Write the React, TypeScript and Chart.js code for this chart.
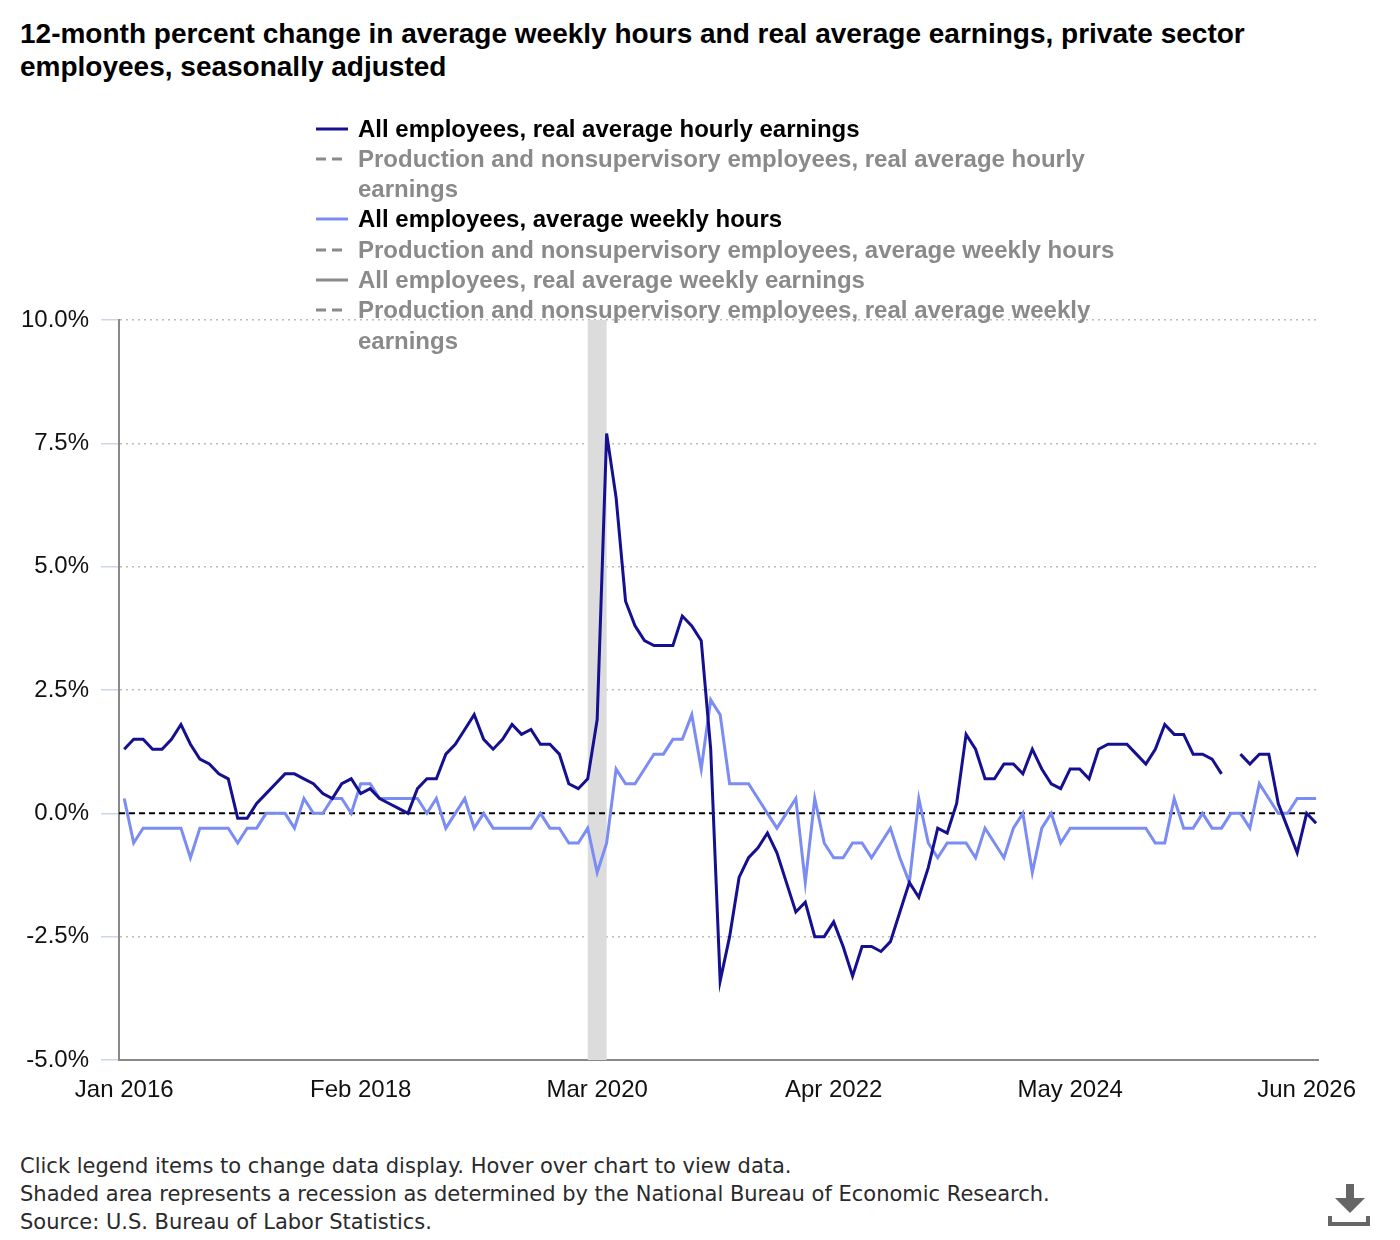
import React, { useEffect, useRef } from 'react';
import { Chart, registerables } from 'chart.js';

Chart.register(...registerables);

// ---------- data ----------
const MONTH_NAMES = ['Jan', 'Feb', 'Mar', 'Apr', 'May', 'Jun', 'Jul', 'Aug', 'Sep', 'Oct', 'Nov', 'Dec'];
const FIRST_YEAR = 2016;
const N_MONTHS = 127; // Jan 2016 .. Jul 2026
const monthLabels: string[] = Array.from(
  { length: N_MONTHS },
  (_, i) => `${MONTH_NAMES[i % 12]} ${FIRST_YEAR + Math.floor(i / 12)}`
);

const xTickLabels = ['Jan 2016', 'Feb 2018', 'Mar 2020', 'Apr 2022', 'May 2024', 'Jun 2026'];
const yTickValues = [-5, -2.5, 0, 2.5, 5, 7.5, 10];

// All employees, real average hourly earnings (12-month % change)
const realHourlyEarnings: (number | null)[] = [
  1.3, 1.5, 1.5, 1.3, 1.3, 1.5, 1.8, 1.4, 1.1, 1.0, 0.8, 0.7,
  -0.1, -0.1, 0.2, 0.4, 0.6, 0.8, 0.8, 0.7, 0.6, 0.4, 0.3, 0.6,
  0.7, 0.4, 0.5, 0.3, 0.2, 0.1, 0.0, 0.5, 0.7, 0.7, 1.2, 1.4,
  1.7, 2.0, 1.5, 1.3, 1.5, 1.8, 1.6, 1.7, 1.4, 1.4, 1.2, 0.6,
  0.5, 0.7, 1.9, 7.7, 6.4, 4.3, 3.8, 3.5, 3.4, 3.4, 3.4, 4.0,
  3.8, 3.5, 1.3, -3.4, -2.5, -1.3, -0.9, -0.7, -0.4, -0.8, -1.4, -2.0,
  -1.8, -2.5, -2.5, -2.2, -2.7, -3.3, -2.7, -2.7, -2.8, -2.6, -2.0, -1.4,
  -1.7, -1.1, -0.3, -0.4, 0.2, 1.6, 1.3, 0.7, 0.7, 1.0, 1.0, 0.8,
  1.3, 0.9, 0.6, 0.5, 0.9, 0.9, 0.7, 1.3, 1.4, 1.4, 1.4, 1.2,
  1.0, 1.3, 1.8, 1.6, 1.6, 1.2, 1.2, 1.1, 0.8, null, 1.2, 1.0,
  1.2, 1.2, 0.2, -0.3, -0.8, 0.0, -0.2,
];

// All employees, average weekly hours (12-month % change)
const weeklyHours: number[] = [
  0.3, -0.6, -0.3, -0.3, -0.3, -0.3, -0.3, -0.9, -0.3, -0.3, -0.3, -0.3,
  -0.6, -0.3, -0.3, 0.0, 0.0, 0.0, -0.3, 0.3, 0.0, 0.0, 0.3, 0.3,
  0.0, 0.6, 0.6, 0.3, 0.3, 0.3, 0.3, 0.3, 0.0, 0.3, -0.3, 0.0,
  0.3, -0.3, 0.0, -0.3, -0.3, -0.3, -0.3, -0.3, 0.0, -0.3, -0.3, -0.6,
  -0.6, -0.3, -1.2, -0.6, 0.9, 0.6, 0.6, 0.9, 1.2, 1.2, 1.5, 1.5,
  2.0, 0.9, 2.3, 2.0, 0.6, 0.6, 0.6, 0.3, 0.0, -0.3, 0.0, 0.3,
  -1.4, 0.3, -0.6, -0.9, -0.9, -0.6, -0.6, -0.9, -0.6, -0.3, -0.9, -1.4,
  0.3, -0.6, -0.9, -0.6, -0.6, -0.6, -0.9, -0.3, -0.6, -0.9, -0.3, 0.0,
  -1.2, -0.3, 0.0, -0.6, -0.3, -0.3, -0.3, -0.3, -0.3, -0.3, -0.3, -0.3,
  -0.3, -0.6, -0.6, 0.3, -0.3, -0.3, 0.0, -0.3, -0.3, 0.0, 0.0, -0.3,
  0.6, 0.3, 0.0, 0.0, 0.3, 0.3, 0.3,
];

const recessionStart = 'Feb 2020';
const recessionEnd = 'Apr 2020';

type LegendItem = { label: string; color: string; dashed: boolean; active: boolean };
const legendItems: LegendItem[] = [
  { label: 'All employees, real average hourly earnings', color: '#14108f', dashed: false, active: true },
  { label: 'Production and nonsupervisory employees, real average hourly earnings', color: '#8a8a8a', dashed: true, active: false },
  { label: 'All employees, average weekly hours', color: '#7b8cf2', dashed: false, active: true },
  { label: 'Production and nonsupervisory employees, average weekly hours', color: '#8a8a8a', dashed: true, active: false },
  { label: 'All employees, real average weekly earnings', color: '#8a8a8a', dashed: false, active: false },
  { label: 'Production and nonsupervisory employees, real average weekly earnings', color: '#8a8a8a', dashed: true, active: false },
];

const footerLines = [
  'Click legend items to change data display. Hover over chart to view data.',
  'Shaded area represents a recession as determined by the National Bureau of Economic Research.',
  'Source: U.S. Bureau of Labor Statistics.',
];

const DARK = '#14108f';
const LIGHT = '#7b8cf2';
const FONT = '"Liberation Sans", Arial, Helvetica, sans-serif';

const overlayPlugin = {
  id: 'overlay',
  beforeDatasetsDraw(chart: any) {
    const { ctx, chartArea, scales } = chart;
    const x = scales.x;
    const y = scales.y;
    const x0 = x.getPixelForValue(monthLabels.indexOf(recessionStart));
    const x1 = x.getPixelForValue(monthLabels.indexOf(recessionEnd));
    ctx.save();
    ctx.fillStyle = '#dcdcdc';
    ctx.fillRect(x0, chartArea.top, x1 - x0, chartArea.bottom - chartArea.top);
    const yz = y.getPixelForValue(0);
    ctx.strokeStyle = '#000';
    ctx.lineWidth = 2;
    ctx.setLineDash([6, 4]);
    ctx.beginPath();
    ctx.moveTo(chartArea.left, yz);
    ctx.lineTo(chartArea.right, yz);
    ctx.stroke();
    ctx.restore();
  },
};

function ChartCanvas() {
  const ref = useRef<HTMLCanvasElement | null>(null);
  useEffect(() => {
    if (!ref.current) return;
    Chart.defaults.font.family = FONT;
    const chart = new Chart(ref.current, {
      type: 'line',
      data: {
        datasets: [
          {
            label: legendItems[0].label,
            data: realHourlyEarnings.map((v, i) => ({ x: i, y: v })),
            borderColor: DARK,
            borderWidth: 3,
            pointRadius: 0,
            tension: 0,
            spanGaps: false,
          },
          {
            label: legendItems[2].label,
            data: weeklyHours.map((v, i) => ({ x: i, y: v })),
            borderColor: LIGHT,
            borderWidth: 3,
            pointRadius: 0,
            tension: 0,
          },
        ],
      } as any,
      options: {
        animation: false,
        responsive: true,
        maintainAspectRatio: false,
        layout: { padding: { top: 30, right: 74, bottom: 0, left: 0 } },
        plugins: { legend: { display: false }, tooltip: { enabled: false } },
        scales: {
          x: {
            type: 'linear',
            min: -0.55,
            max: 126.2,
            grid: { display: false, drawTicks: false },
            border: { color: '#888', width: 2 },
            afterBuildTicks: (s: any) => {
              s.ticks = xTickLabels.map((l) => ({ value: monthLabels.indexOf(l) }));
            },
            afterFit: (s: any) => {
              s.height = 60;
            },
            ticks: {
              callback: (v: any) => monthLabels[Number(v)],
              font: { size: 24 },
              color: '#111',
              padding: 16,
              maxRotation: 0,
              autoSkip: false,
            },
          },
          y: {
            min: -5,
            max: 10,
            afterBuildTicks: (s: any) => {
              s.ticks = yTickValues.map((v) => ({ value: v }));
            },
            afterFit: (s: any) => {
              s.width = 111;
            },
            ticks: {
              callback: (v: any) => `${Number(v).toFixed(1)}%`,
              font: { size: 24 },
              color: '#111',
              padding: 12,
            },
            grid: {
              color: (c: any) => (c.tick && c.tick.value === 0 ? 'rgba(0,0,0,0)' : '#bcbcbc'),
              lineWidth: 1.5,
              tickColor: '#ccd6eb',
              tickLength: 18,
              tickWidth: 1.5,
            },
            border: { color: '#888', width: 2, dash: [2, 4] },
          },
        },
      } as any,
      plugins: [overlayPlugin],
    });
    return () => chart.destroy();
  }, []);
  return (
    <div style={{ position: 'absolute', left: 0, top: 282, width: 1384, height: 830 }}>
      <canvas ref={ref} />
    </div>
  );
}

function LegendMarker({ item }: { item: LegendItem }) {
  return (
    <svg width={32} height={30} style={{ flex: '0 0 auto', marginRight: 10 }}>
      <line
        x1={0}
        y1={15}
        x2={32}
        y2={15}
        stroke={item.color}
        strokeWidth={3}
        strokeDasharray={item.dashed ? '10 6 10 6' : undefined}
      />
    </svg>
  );
}

function DownloadIcon() {
  return (
    <svg width={42} height={42} style={{ position: 'absolute', left: 1320, top: 1176 }}>
      <rect x={18} y={0} width={8} height={15} fill="#666" />
      <polygon points="7,14 37,14 22,29" fill="#666" />
      <rect x={0} y={32} width={4} height={10} fill="#666" />
      <rect x={38} y={32} width={4} height={10} fill="#666" />
      <rect x={0} y={38} width={42} height={4} fill="#666" />
    </svg>
  );
}

export default function App() {
  return (
    <div style={{ position: 'relative', width: 1384, height: 1224, fontFamily: FONT, background: '#fff' }}>
      <div
        style={{
          position: 'absolute',
          left: 12,
          top: 9,
          width: 1300,
          fontSize: 28,
          lineHeight: '33px',
          fontWeight: 'bold',
          color: '#000',
        }}
      >
        12-month percent change in average weekly hours and real average earnings, private sector employees, seasonally adjusted
      </div>
      <ChartCanvas />
      <div
        style={{
          position: 'absolute',
          left: 308,
          top: 105.5,
          zIndex: 2,
          fontSize: 24,
          lineHeight: '30.3px',
          fontWeight: 'bold',
        }}
      >
        {legendItems.map((item) => (
          <div key={item.label} style={{ display: 'flex', alignItems: 'flex-start' }}>
            <LegendMarker item={item} />
            <div style={{ width: 790, color: item.active ? '#000' : '#8a8a8a' }}>{item.label}</div>
          </div>
        ))}
      </div>
      <div
        style={{
          position: 'absolute',
          left: 12,
          top: 1144,
          fontFamily: '"DejaVu Sans", Verdana, sans-serif',
          fontSize: 21,
          lineHeight: '28px',
          color: '#2a2a2a',
          whiteSpace: 'nowrap',
        }}
      >
        {footerLines.map((l) => (
          <div key={l}>{l}</div>
        ))}
      </div>
      <DownloadIcon />
    </div>
  );
}
